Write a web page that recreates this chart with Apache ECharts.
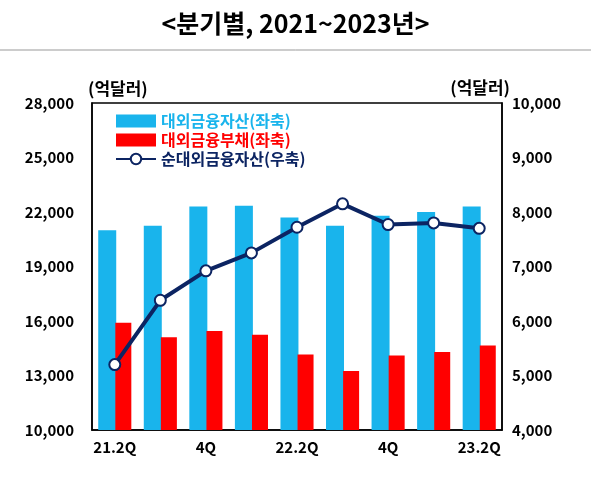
<!DOCTYPE html>
<html><head><meta charset="utf-8">
<script src="https://cdn.jsdelivr.net/npm/echarts@6/dist/echarts.min.js"></script>
<style>html,body{margin:0;padding:0;background:#fff}#c{width:591px;height:479px}</style>
</head><body><div id="c"></div>
<script>
const categories = ['21.2Q','3Q','4Q','22.1Q','22.2Q','3Q','4Q','23.1Q','23.2Q'];
const shownLabels = ['21.2Q','','4Q','','22.2Q','','4Q','','23.2Q'];
const assets = [21000, 21250, 22300, 22350, 21700, 21250, 21800, 22000, 22300];
const liabilities = [15900, 15100, 15450, 15250, 14150, 13250, 14100, 14300, 14650];
const netAssets = [5200, 6380, 6920, 7250, 7720, 8150, 7770, 7800, 7700];
const leftTicks = [10000, 28000, 3000];
const rightTicks = [4000, 10000, 1000];
const F = "'Noto Sans CJK KR', sans-serif";
const chart = echarts.init(document.getElementById('c'));
chart.setOption({
  animation:false,
  title:{text:'<분기별, 2021~2023년>',left:'center',top:6,textStyle:{fontFamily:F,fontSize:25,fontWeight:'bold',color:'#000'}},
  graphic:[{type:'line',shape:{x1:0,y1:50,x2:591,y2:50},style:{stroke:'#999',lineWidth:1}}],
  legend:{left:110,top:108,orient:'vertical',itemGap:3,itemWidth:40,itemHeight:13,
    textStyle:{fontFamily:F,fontSize:16,fontWeight:'bold'},
    data:[{name:'대외금융자산(좌축)',icon:'rect',textStyle:{color:'#19B4EC'}},
          {name:'대외금융부채(좌축)',icon:'rect',textStyle:{color:'#FF0000'}},
          {name:'순대외금융자산(우축)',textStyle:{color:'#0C2462'}}]},
  grid:{left:92,right:89,top:103,bottom:49,show:true,borderColor:'#000',borderWidth:1.5},
  xAxis:{type:'category',data:categories,axisTick:{show:false},
    axisLine:{lineStyle:{color:'#000',width:1.5}},
    axisLabel:{interval:0,formatter:(v,i)=>shownLabels[i],fontFamily:F,fontSize:15,fontWeight:'bold',color:'#000',margin:10}},
  yAxis:[
    {type:'value',min:leftTicks[0],max:leftTicks[1],interval:leftTicks[2],splitLine:{show:false},
     name:'(억달러)',nameGap:6,nameTextStyle:{fontFamily:F,fontSize:17,fontWeight:'bold',color:'#000',align:'left',padding:[0,0,0,-4]},
     axisLine:{show:true,lineStyle:{color:'#000',width:1.5}},axisTick:{show:false},
     axisLabel:{fontFamily:F,fontSize:15,fontWeight:'bold',color:'#000',margin:18,formatter:v=>v.toLocaleString('en-US')}},
    {type:'value',min:rightTicks[0],max:rightTicks[1],interval:rightTicks[2],splitLine:{show:false},
     name:'(억달러)',nameGap:6,nameTextStyle:{fontFamily:F,fontSize:17,fontWeight:'bold',color:'#000',align:'right',padding:[0,-8,0,0]},
     axisLine:{show:true,lineStyle:{color:'#000',width:1.5}},axisTick:{show:false},
     axisLabel:{fontFamily:F,fontSize:15,fontWeight:'bold',color:'#000',margin:10,formatter:v=>v.toLocaleString('en-US')}}
  ],
  series:[
    {name:'대외금융자산(좌축)',type:'bar',data:assets,barWidth:18,barGap:'-5%',itemStyle:{color:'#19B4EC'}},
    {name:'대외금융부채(좌축)',type:'bar',data:liabilities,barWidth:16,itemStyle:{color:'#FF0000'}},
    {name:'순대외금융자산(우축)',type:'line',yAxisIndex:1,data:netAssets,symbol:'circle',symbolSize:11,
     lineStyle:{color:'#0C2462',width:4},itemStyle:{color:'#fff',borderColor:'#0C2462',borderWidth:2}}
  ]
});
</script></body></html>
